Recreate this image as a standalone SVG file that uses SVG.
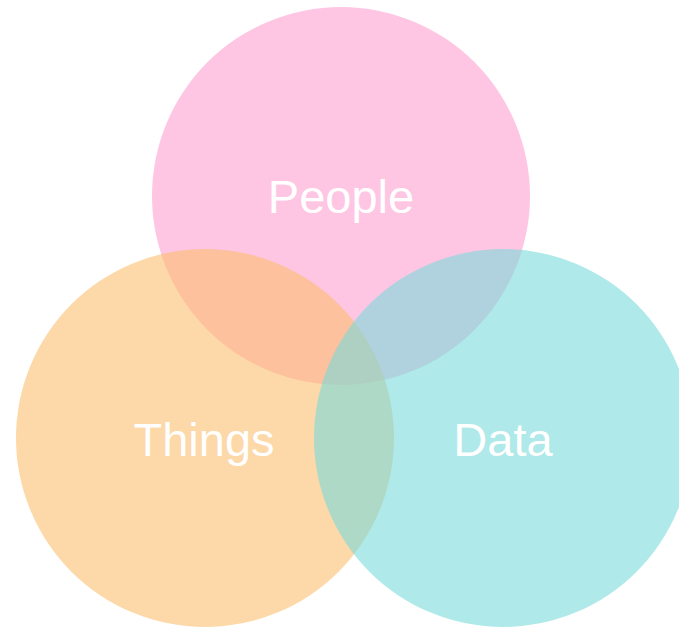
<svg xmlns="http://www.w3.org/2000/svg" width="679" height="629" viewBox="0 0 679 629">
<style>
.c{fill-opacity:0.6}
.t{font-family:"Liberation Sans",Arial,sans-serif;font-size:47px;fill:#ffffff;text-anchor:middle}
</style>
<rect width="679" height="629" fill="#ffffff"/>
<g id="people">
<circle class="c" cx="341" cy="196" r="189" fill="#FDA0D0"/>
</g>
<g id="things">
<circle class="c" cx="205" cy="438" r="189" fill="#FCBE6E"/>
</g>
<g id="data">
<circle class="c" cx="503" cy="438" r="189" fill="#7ADADA"/>
</g>
<g id="labels">
<text class="t" x="341" y="213">People</text>
<text class="t" x="204" y="456">Things</text>
<text class="t" x="503" y="456">Data</text>
</g>
<g id="connectors"/>
</svg>
